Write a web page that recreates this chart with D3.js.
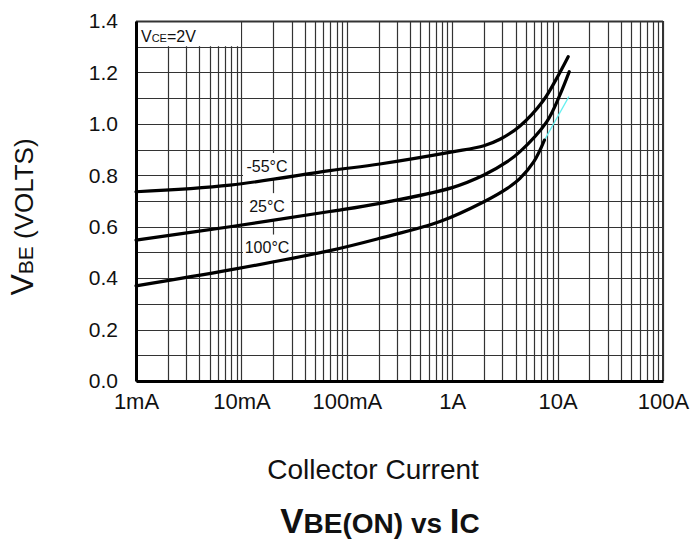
<!DOCTYPE html>
<html>
<head>
<meta charset="utf-8">
<title>VBE(ON) vs IC</title>
<style>
  body { margin: 0; background: #fff; }
  text { font-family: "Liberation Sans Narrow", "Liberation Sans", Arial, sans-serif; }
</style>
</head>
<body>
<svg width="691" height="539"></svg>
<script src="https://d3js.org/d3.v7.min.js"></script>
<script>

// collector current (A) and VBE (V)
var ic55  = [0.001, 0.0078, 0.069, 0.206, 1.0, 2.0, 2.84, 4.4, 7.3, 9.8, 12.6];
var vbe55 = [0.736, 0.762, 0.818, 0.844, 0.891, 0.915, 0.940, 0.992, 1.090, 1.177, 1.261];

var ic25  = [0.001, 0.0078, 0.069, 0.206, 1.0, 2.0, 3.3, 4.4, 7.9, 10.5, 12.9];
var vbe25 = [0.548, 0.600, 0.659, 0.691, 0.752, 0.801, 0.852, 0.892, 1.009, 1.112, 1.203];

var ic100  = [0.001, 0.0078, 0.069, 0.206, 0.766, 2.0, 3.3, 4.4, 5.95, 7.5];
var vbe100 = [0.370, 0.432, 0.507, 0.555, 0.620, 0.697, 0.748, 0.788, 0.853, 0.937];

// thin cyan stroke continuing the 100°C curve
var icExt  = [7.5, 12.8];
var vbeExt = [0.937, 1.106];

var seriesNames = ["-55°C", "25°C", "100°C"];
// label centre (A, V)
var labelIc  = [0.0175, 0.0175, 0.0175];
var labelVbe = [0.836, 0.680, 0.519];

var xTickValues = [0.001, 0.01, 0.1, 1, 10, 100];
var xTickLabels = ["1mA", "10mA", "100mA", "1A", "10A", "100A"];
var yTickValues = [0, 0.2, 0.4, 0.6, 0.8, 1.0, 1.2, 1.4];

var svg = d3.select("svg"),
    margin = {top: 21, right: 28, bottom: 158, left: 136},
    width = +svg.attr("width") - margin.left - margin.right,
    height = +svg.attr("height") - margin.top - margin.bottom,
    g = svg.append("g").attr("transform", "translate(" + margin.left + "," + margin.top + ")");

var x = d3.scaleLog().domain([0.001, 100]).range([0, width]);
var y = d3.scaleLinear().domain([0, 1.4]).range([height, 0]);

// grid: 1..9 in every decade, every 0.1 V
var xGrid = [];
xTickValues.slice(0, -1).forEach(function(d) {
  for (var k = 1; k < 10; k++) xGrid.push(d * k);
});
xGrid.push(100);
var yGrid = d3.range(0, 15).map(function(i) { return i / 10; });

g.append("g").selectAll("line").data(xGrid).enter().append("line")
    .attr("x1", function(d) { return Math.round(x(d)) + 0.5; })
    .attr("x2", function(d) { return Math.round(x(d)) + 0.5; })
    .attr("y1", 0).attr("y2", height)
    .attr("stroke", "#333").attr("stroke-width", 1.2);

g.append("g").selectAll("line").data(yGrid).enter().append("line")
    .attr("x1", 0).attr("x2", width)
    .attr("y1", function(d) { return Math.round(y(d)) + 0.5; })
    .attr("y2", function(d) { return Math.round(y(d)) + 0.5; })
    .attr("stroke", "#333").attr("stroke-width", 1.2);

// white box holding the test condition
g.append("rect")
    .attr("x", x(0.001) + 1).attr("y", y(1.4) + 1)
    .attr("width", x(0.01) - x(0.001) - 1.5)
    .attr("height", y(1.3) - y(1.4) - 1.5)
    .attr("fill", "#fff");

var vce = g.append("text")
    .attr("x", x(0.001) + 5).attr("y", y(1.3) - 5)
    .attr("font-size", 16).attr("fill", "#111");
vce.append("tspan").text("V");
vce.append("tspan").attr("font-size", 11).text("CE");
vce.append("tspan").text("=2V");

// white patches behind curve labels
g.append("g").selectAll("rect").data(seriesNames).enter().append("rect")
    .attr("x", function(d, i) { return x(labelIc[i]) - 24; })
    .attr("y", function(d, i) { return y(labelVbe[i]) - 13; })
    .attr("width", 48).attr("height", 26)
    .attr("fill", "#fff");

g.append("g").selectAll("text").data(seriesNames).enter().append("text")
    .attr("x", function(d, i) { return x(labelIc[i]); })
    .attr("y", function(d, i) { return y(labelVbe[i]); })
    .attr("dy", "0.36em")
    .attr("text-anchor", "middle")
    .attr("font-size", 16)
    .attr("fill", "#111")
    .text(function(d) { return d; });

var line = d3.line()
    .x(function(d) { return x(d[0]); })
    .y(function(d) { return y(d[1]); })
    .curve(d3.curveCatmullRom.alpha(0.5));

var curves = [
  d3.zip(ic55, vbe55),
  d3.zip(ic25, vbe25),
  d3.zip(ic100, vbe100)
];

g.append("path")
    .datum(d3.zip(icExt, vbeExt))
    .attr("fill", "none")
    .attr("stroke", "#66f0f0")
    .attr("stroke-width", 1.3)
    .attr("d", line);

g.append("g").selectAll("path").data(curves).enter().append("path")
    .attr("fill", "none")
    .attr("stroke", "#000")
    .attr("stroke-width", 3.2)
    .attr("stroke-linecap", "round")
    .attr("stroke-linejoin", "round")
    .attr("d", line);

// frame
g.append("line").attr("x1", 0).attr("x2", width).attr("y1", 0.5).attr("y2", 0.5)
    .attr("stroke", "#333").attr("stroke-width", 2);
g.append("line").attr("x1", width).attr("x2", width).attr("y1", 0).attr("y2", height)
    .attr("stroke", "#333").attr("stroke-width", 2);

var yAxis = g.append("g")
    .call(d3.axisLeft(y).tickValues(yTickValues).tickSize(0).tickPadding(18)
      .tickFormat(d3.format(".1f")));
yAxis.select(".domain").attr("stroke", "#000").attr("stroke-width", 3);
yAxis.selectAll("text").attr("font-size", 21).attr("fill", "#111")
    .style("font-family", "inherit");

var xAxis = g.append("g")
    .attr("transform", "translate(0," + height + ")")
    .call(d3.axisBottom(x).tickValues(xTickValues).tickSize(0).tickPadding(12)
      .tickFormat(function(d, i) { return xTickLabels[i]; }));
xAxis.select(".domain").attr("stroke", "#000").attr("stroke-width", 3);
xAxis.selectAll("text").attr("font-size", 22).attr("fill", "#111")
    .style("font-family", "inherit");

svg.append("text")
    .attr("x", 373)
    .attr("y", 479)
    .attr("text-anchor", "middle")
    .attr("font-size", 28)
    .attr("fill", "#111")
    .text("Collector Current");

var title = svg.append("text")
    .attr("x", 380)
    .attr("y", 533)
    .attr("text-anchor", "middle")
    .attr("font-weight", "bold")
    .attr("font-size", 35)
    .attr("fill", "#111");
title.append("tspan").text("V");
title.append("tspan").attr("font-size", 28).text("BE(ON) vs ");
title.append("tspan").text("I");
title.append("tspan").attr("font-size", 28).text("C");

var ylab = svg.append("text")
    .attr("transform", "translate(33,217) rotate(-90)")
    .attr("text-anchor", "middle")
    .attr("font-size", 26)
    .attr("fill", "#111");
ylab.append("tspan").attr("font-size", 32).text("V");
ylab.append("tspan").attr("font-size", 21).text("BE");
ylab.append("tspan").text("  (VOLTS)");

</script>
</body>
</html>
